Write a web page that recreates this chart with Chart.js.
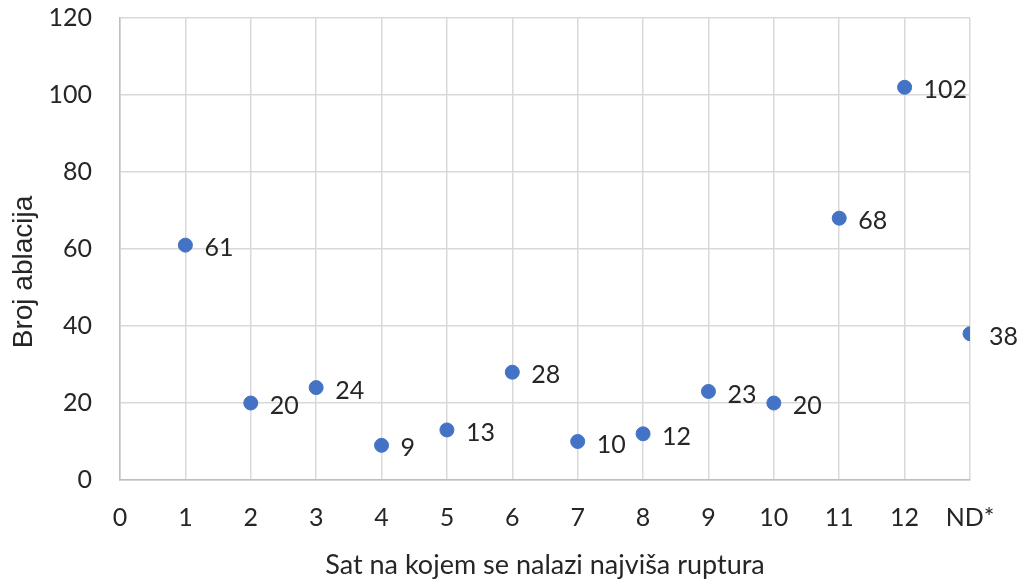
<!DOCTYPE html>
<html>
<head>
<meta charset="utf-8">
<script src="https://cdn.jsdelivr.net/npm/chart.js@4"></script>
<style>
  html, body { margin: 0; padding: 0; background: #fff; }
  #wrap { width: 1019px; height: 579px; }
</style>
</head>
<body>
<div id="wrap"><canvas id="myChart" width="1019" height="579"></canvas></div>
<script>
var hours = [1, 2, 3, 4, 5, 6, 7, 8, 9, 10, 11, 12, 13];
var ablations = [61, 20, 24, 9, 13, 28, 10, 12, 23, 20, 68, 102, 38];
var xTickLabels = ["0", "1", "2", "3", "4", "5", "6", "7", "8", "9", "10", "11", "12", "ND*"];
var yTitle = 'Broj ablacija';

var points = hours.map(function(h, i) {
    return { x: h, y: ablations[i] };
});

// draw value next to each point, like excel "right" labels
var valueLabels = {
    id: 'valueLabels',
    afterDatasetsDraw: function(chart) {
        var ctx = chart.ctx;
        var meta = chart.getDatasetMeta(0);
        ctx.save();
        ctx.font = '25px Lato';
        ctx.fillStyle = '#262626';
        ctx.textAlign = 'left';
        ctx.textBaseline = 'middle';
        meta.data.forEach(function(el, i) {
            ctx.fillText(String(ablations[i]), el.x + 19, el.y + 3);
        });
        ctx.restore();
    }
};

// y title sits a bit below the middle of the plot in the original
var yTitlePlugin = {
    id: 'yTitlePlugin',
    afterDraw: function(chart) {
        var ctx = chart.ctx;
        var area = chart.chartArea;
        ctx.save();
        ctx.translate(24, (area.top + area.bottom) / 2 + 23);
        ctx.rotate(-Math.PI / 2);
        ctx.font = '28px "Liberation Sans"';
        ctx.fillStyle = '#262626';
        ctx.textAlign = 'center';
        ctx.textBaseline = 'middle';
        ctx.fillText(yTitle, 0, 0);
        ctx.restore();
    }
};

var config = {
    type: 'scatter',
    data: {
        datasets: [{
            label: yTitle,
            data: points,
            backgroundColor: '#4472C4',
            borderColor: '#4472C4',
            pointRadius: 7,
            pointHoverRadius: 7
        }]
    },
    options: {
        responsive: false,
        animation: false,
        layout: { padding: { top: 18, right: 49, left: 4, bottom: 0 } },
        plugins: {
            legend: { display: false },
            tooltip: { enabled: false }
        },
        scales: {
            x: {
                type: 'linear',
                min: 0,
                max: 13,
                afterBuildTicks: function(axis) {
                    axis.ticks = xTickLabels.map(function(t, i) { return { value: i }; });
                },
                afterFit: function(axis) {
                    axis.height = 99;
                },
                ticks: {
                    stepSize: 1,
                    autoSkip: false,
                    maxRotation: 0,
                    color: '#262626',
                    font: { family: 'Lato', size: 25 },
                    padding: 23,
                    callback: function(v) { return xTickLabels[v]; }
                },
                grid: { color: '#d9d9d9', lineWidth: 1.5, drawTicks: false },
                border: { color: '#bfbfbf', width: 1.5 },
                title: {
                    display: true,
                    text: 'Sat na kojem se nalazi najviša ruptura',
                    color: '#262626',
                    font: { family: 'Lato', size: 27, lineHeight: 1 },
                    padding: { top: 0, bottom: 0 }
                }
            },
            y: {
                min: 0,
                max: 120,
                afterFit: function(axis) {
                    axis.width = 116;
                    axis.paddingTop = 0;
                    axis.paddingBottom = 0;
                },
                ticks: {
                    stepSize: 20,
                    color: '#262626',
                    font: { family: 'Lato', size: 25 },
                    padding: 28
                },
                grid: { color: '#d9d9d9', lineWidth: 1.5, drawTicks: false },
                border: { color: '#bfbfbf', width: 1.5 },
                title: { display: false }
            }
        }
    },
    plugins: [valueLabels, yTitlePlugin]
};

var ctx = document.getElementById("myChart").getContext("2d");
window.myScatter = new Chart(ctx, config);
</script>
</body>
</html>
